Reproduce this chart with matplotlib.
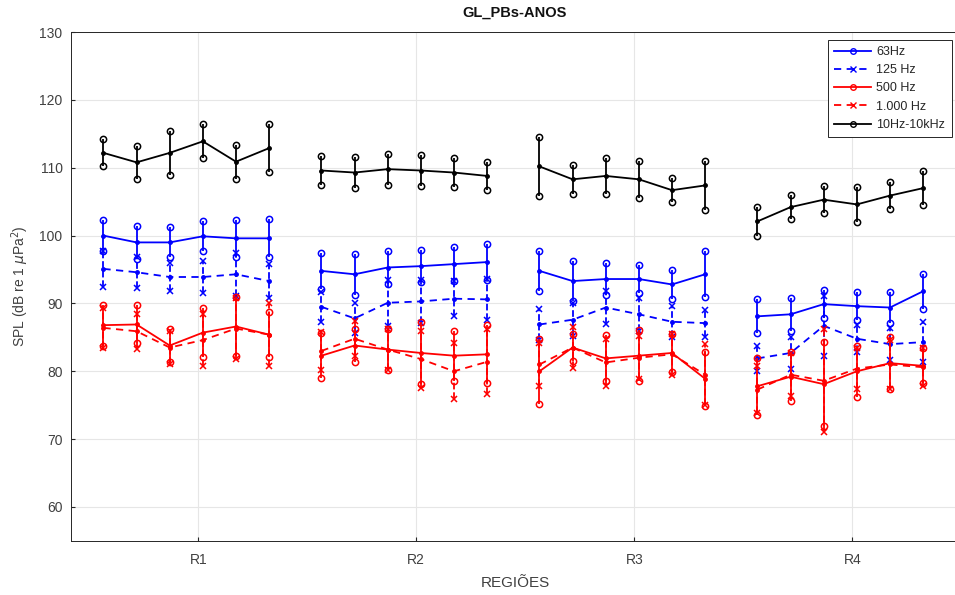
import matplotlib
matplotlib.use("Agg")
import matplotlib.pyplot as plt
from matplotlib.lines import Line2D
import numpy as np

plt.rcParams['font.family'] = ['Liberation Sans', 'DejaVu Sans']

regions = ["R1", "R2", "R3", "R4"]

# mean values, 6 points per region (R1..R4 concatenated)
hz63 = [100.0, 99.0, 99.0, 99.9, 99.6, 99.6,
        94.8, 94.3, 95.3, 95.5, 95.8, 96.1,
        94.8, 93.3, 93.6, 93.6, 92.8, 94.3,
        88.1, 88.4, 89.9, 89.6, 89.4, 91.8]
hz63_err = [2.3, 2.4, 2.2, 2.2, 2.7, 2.8,
            2.6, 3.0, 2.4, 2.4, 2.5, 2.7,
            3.0, 3.0, 2.3, 2.1, 2.2, 3.4,
            2.5, 2.4, 2.1, 2.1, 2.3, 2.6]
hz125 = [95.1, 94.6, 93.9, 93.9, 94.3, 93.3,
         89.5, 87.8, 90.1, 90.3, 90.7, 90.6,
         86.9, 87.6, 89.4, 88.4, 87.3, 87.1,
         81.9, 82.7, 86.7, 84.8, 84.0, 84.3]
hz125_err = [2.7, 2.3, 2.0, 2.3, 3.2, 2.5,
             2.2, 2.2, 3.4, 3.2, 2.6, 3.0,
             2.3, 2.4, 2.4, 2.4, 2.3, 2.0,
             1.9, 2.4, 4.4, 2.0, 2.4, 2.9]
hz500 = [86.8, 86.9, 83.8, 85.7, 86.6, 85.4,
         82.3, 83.8, 83.2, 82.7, 82.3, 82.5,
         80.0, 83.5, 81.9, 82.3, 82.7, 78.9,
         77.8, 79.2, 78.1, 80.0, 81.2, 80.8]
hz500_err = [3.0, 2.8, 2.5, 3.6, 4.4, 3.3,
             3.3, 2.4, 3.0, 4.6, 3.7, 4.3,
             4.8, 2.0, 3.4, 3.8, 2.8, 4.0,
             4.2, 3.6, 6.2, 3.8, 3.8, 2.6]
hz1000 = [86.4, 85.9, 83.5, 84.6, 86.3, 85.4,
          83.0, 84.8, 83.2, 81.8, 80.0, 81.4,
          81.0, 83.5, 81.3, 82.0, 82.5, 79.5,
          77.3, 79.5, 78.6, 80.4, 81.0, 80.6]
hz1000_err = [3.0, 2.6, 2.4, 3.8, 4.5, 4.6,
              2.8, 2.6, 3.0, 4.2, 4.1, 4.8,
              3.2, 3.0, 3.5, 3.2, 3.0, 4.5,
              3.5, 3.2, 7.6, 3.0, 3.6, 2.8]
broad = [112.2, 110.8, 112.2, 113.9, 110.9, 112.9,
         109.6, 109.3, 109.8, 109.6, 109.3, 108.8,
         110.2, 108.3, 108.8, 108.3, 106.7, 107.4,
         102.1, 104.2, 105.3, 104.6, 105.9, 107.0]
broad_err = [2.0, 2.4, 3.2, 2.5, 2.5, 3.5,
             2.1, 2.3, 2.3, 2.3, 2.2, 2.1,
             4.4, 2.1, 2.6, 2.7, 1.8, 3.6,
             2.1, 1.8, 2.0, 2.6, 2.0, 2.5]

labels = ["63Hz", "125 Hz", "500 Hz", "1.000 Hz", "10Hz-10kHz"]

fig = plt.figure(figsize=(9.55, 5.95), dpi=100)
ax = fig.add_axes([0.0743, 0.091, 0.93, 0.855])

n_per = 6
centers = np.arange(1, len(regions) + 1)
offsets = -0.435 + 0.152 * np.arange(n_per)
xs = np.concatenate([c + offsets for c in centers])

series = [
    (hz63, hz63_err, "#0000ff", "-", "o"),
    (hz125, hz125_err, "#0000ff", "--", "x"),
    (hz500, hz500_err, "#ff0000", "-", "o"),
    (hz1000, hz1000_err, "#ff0000", "--", "x"),
    (broad, broad_err, "#000000", "-", "o"),
]

LW = 1.3
handles = []
for (vals, errs, col, ls, endm), lab in zip(series, labels):
    vals = np.array(vals)
    errs = np.array(errs)
    dash = (4, 3) if ls == "--" else None
    for r in range(len(regions)):
        sl = slice(r * n_per, (r + 1) * n_per)
        x = xs[sl]
        y = vals[sl]
        e = errs[sl]
        ln, = ax.plot(x, y, color=col, ls=ls, lw=LW, marker='.', ms=5, zorder=3)
        if dash:
            ln.set_dashes(dash)
        vl = ax.vlines(x, y - e, y + e, colors=col, linestyles=ls, lw=LW, zorder=3)
        ax.plot(x, y - e, ls='none', marker=endm, ms=4.5, mfc='none', mec=col, mew=1.1, zorder=3)
        ax.plot(x, y + e, ls='none', marker=endm, ms=4.5, mfc='none', mec=col, mew=1.1, zorder=3)
    h = Line2D([], [], color=col, ls=ls, lw=LW, marker='o' if ls == '-' else 'x',
               ms=4, mfc='none', mec=col)
    if dash:
        h.set_dashes(dash)
    handles.append(h)

txtc = '#404040'
ax.set_xlim(0.416, 4.49)
ax.set_ylim(55, 130)
ax.set_xticks(centers)
ax.set_xticklabels(regions)
ax.set_yticks(np.arange(60, 131, 10))
ax.grid(True, color='#e6e6e6', lw=0.8)
ax.set_axisbelow(True)
for s in ax.spines.values():
    s.set_color('#262626')
    s.set_linewidth(0.7)
ax.tick_params(direction='in', length=3, color='#262626', labelcolor=txtc, labelsize=10)
ax.tick_params(axis='x', pad=9)
ax.tick_params(axis='y', pad=6)

ax.set_title("GL_PBs-ANOS", fontweight='bold', fontsize=10.5, color='#111111', pad=11)
ax.set_xlabel("REGIÕES", fontsize=11, color=txtc, labelpad=6)
ax.set_ylabel(r"SPL (dB re 1 $\mu$Pa$^2$)", fontsize=10, color=txtc, labelpad=6)

leg = ax.legend(handles, labels, loc='upper right', fontsize=9, frameon=True,
                fancybox=False, edgecolor='#262626', framealpha=1,
                handlelength=3.0, borderaxespad=0.6, labelspacing=0.5,
                borderpad=0.5, handletextpad=0.4)
leg.get_frame().set_linewidth(0.7)
for t in leg.get_texts():
    t.set_color('#262626')

fig.savefig("out.png", dpi=100)
